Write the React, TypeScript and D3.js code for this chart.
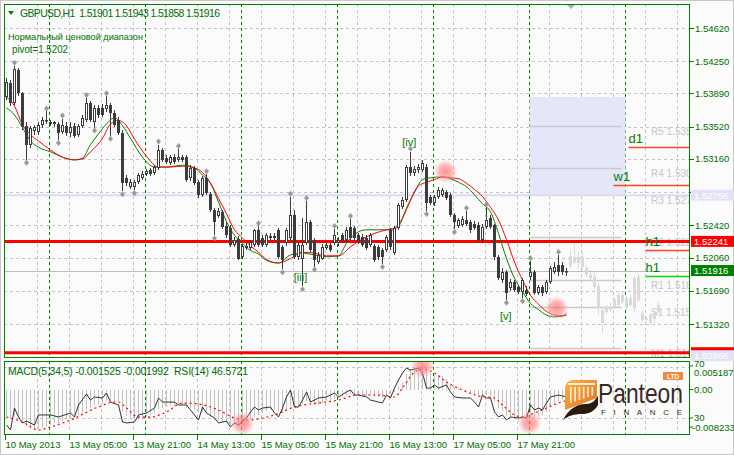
import React from "react";
import * as d3 from "d3";

// ---------- DATA ----------
const symbolTitle = "GBPUSD,H1  1.51901 1.51943 1.51858 1.51916";
const noteLine1 = "Нормальный ценовой диапазон";
const noteLine2 = "pivot=1.5202";
const macdTitle = "MACD(5,34,5) -0.001525 -0.001992  RSI(14) 46.5721";

const opens = [1.5385,1.5401,1.5378,1.5415,1.5390,1.5353,1.5332,1.5347,1.5346,1.5354,
1.5358,1.5357,1.5357,1.5355,1.5346,1.5353,1.5345,1.5353,1.5343,1.5353,
1.5359,1.5378,1.5357,1.5373,1.5373,1.5372,1.5376,1.5367,1.5359,1.5345,
1.5295,1.5285,1.5285,1.5290,1.5295,1.5299,1.5304,1.5300,1.5306,1.5326,
1.5317,1.5311,1.5318,1.5315,1.5318,1.5318,1.5295,1.5306,1.5290,1.5276,
1.5295,1.5277,1.5259,1.5252,1.5257,1.5241,1.5239,1.5220,1.5227,1.5207,
1.5219,1.5217,1.5220,1.5237,1.5228,1.5220,1.5230,1.5230,1.5237,1.5218,
1.5222,1.5228,1.5253,1.5207,1.5205,1.5222,1.5246,1.5226,1.5201,1.5205,
1.5217,1.5220,1.5222,1.5222,1.5231,1.5226,1.5240,1.5239,1.5231,1.5229,
1.5228,1.5220,1.5219,1.5218,1.5214,1.5214,1.5237,1.5211,1.5239,1.5262,
1.5270,1.5307,1.5300,1.5304,1.5304,1.5307,1.5274,1.5267,1.5274,1.5276,
1.5279,1.5276,1.5253,1.5241,1.5242,1.5248,1.5246,1.5243,1.5242,1.5226,
1.5240,1.5250,1.5242,1.5207,1.5181,1.5190,1.5172,1.5179,1.5173,1.5168,
1.5170,1.5184,1.5190,1.5167,1.5173,1.5168,1.5179,1.5190,1.5198,1.5198,
1.51901];
const highs = [1.5406,1.5404,1.5420,1.5417,1.5391,1.5357,1.5353,1.5354,1.5357,1.5363,
1.5369,1.5359,1.5358,1.5357,1.5361,1.5357,1.5357,1.5356,1.5355,1.5365,
1.5384,1.5381,1.5376,1.5376,1.5377,1.5386,1.5378,1.5371,1.5363,1.5348,
1.5298,1.5294,1.5293,1.5300,1.5303,1.5305,1.5306,1.5309,1.5332,1.5328,
1.5320,1.5320,1.5322,1.5327,1.5320,1.5320,1.5309,1.5308,1.5293,1.5297,
1.5299,1.5279,1.5261,1.5261,1.5259,1.5246,1.5242,1.5229,1.5230,1.5221,
1.5222,1.5226,1.5238,1.5241,1.5231,1.5233,1.5233,1.5234,1.5239,1.5220,
1.5239,1.5274,1.5259,1.5223,1.5250,1.5269,1.5248,1.5228,1.5212,1.5221,
1.5223,1.5222,1.5238,1.5229,1.5233,1.5240,1.5249,1.5241,1.5234,1.5232,
1.5231,1.5234,1.5221,1.5220,1.5217,1.5231,1.5239,1.5241,1.5267,1.5274,
1.5309,1.5324,1.5308,1.5310,1.5315,1.5310,1.5276,1.5276,1.5285,1.5284,
1.5281,1.5278,1.5256,1.5250,1.5252,1.5258,1.5248,1.5247,1.5246,1.5244,
1.5262,1.5253,1.5244,1.5209,1.5194,1.5192,1.5182,1.5181,1.5175,1.5183,
1.5174,1.5202,1.5192,1.5175,1.5175,1.5181,1.5197,1.5201,1.5209,1.5201,
1.51943];
const lows = [1.5382,1.5375,1.5376,1.5386,1.5348,1.5315,1.5328,1.5343,1.5343,1.5351,
1.5355,1.5353,1.5352,1.5337,1.5344,1.5342,1.5340,1.5339,1.5340,1.5351,
1.5357,1.5357,1.5351,1.5362,1.5363,1.5368,1.5342,1.5352,1.5343,1.5280,
1.5286,1.5282,1.5281,1.5288,1.5293,1.5297,1.5297,1.5298,1.5304,1.5313,
1.5310,1.5309,1.5310,1.5313,1.5313,1.5290,1.5291,1.5287,1.5272,1.5274,
1.5276,1.5257,1.5231,1.5250,1.5238,1.5228,1.5218,1.5218,1.5203,1.5204,
1.5214,1.5214,1.5218,1.5218,1.5218,1.5218,1.5226,1.5224,1.5204,1.5193,
1.5219,1.5226,1.5204,1.5203,1.5174,1.5220,1.5212,1.5196,1.5199,1.5203,
1.5214,1.5212,1.5220,1.5219,1.5222,1.5223,1.5226,1.5224,1.5221,1.5218,
1.5214,1.5218,1.5201,1.5203,1.5199,1.5212,1.5214,1.5209,1.5237,1.5260,
1.5268,1.5297,1.5297,1.5300,1.5301,1.5258,1.5265,1.5263,1.5271,1.5274,
1.5270,1.5251,1.5238,1.5239,1.5240,1.5241,1.5234,1.5237,1.5223,1.5223,
1.5238,1.5238,1.5203,1.5181,1.5178,1.5159,1.5169,1.5168,1.5165,1.5161,
1.5163,1.5181,1.5164,1.5164,1.5163,1.5165,1.5177,1.5188,1.5185,1.5187,
1.51858];
const closes = [1.5402,1.5378,1.5416,1.5390,1.5352,1.5332,1.5351,1.5352,1.5354,1.5359,
1.5359,1.5355,1.5355,1.5345,1.5354,1.5345,1.5352,1.5342,1.5353,1.5362,
1.5378,1.5359,1.5373,1.5365,1.5365,1.5376,1.5367,1.5354,1.5345,1.5289,
1.5289,1.5290,1.5290,1.5298,1.5299,1.5303,1.5299,1.5307,1.5326,1.5315,
1.5313,1.5318,1.5313,1.5318,1.5315,1.5293,1.5306,1.5289,1.5276,1.5295,
1.5278,1.5259,1.5246,1.5258,1.5240,1.5231,1.5220,1.5226,1.5205,1.5219,
1.5217,1.5223,1.5237,1.5220,1.5220,1.5231,1.5228,1.5228,1.5207,1.5203,
1.5237,1.5253,1.5207,1.5220,1.5220,1.5246,1.5214,1.5203,1.5209,1.5218,
1.5220,1.5214,1.5231,1.5226,1.5226,1.5237,1.5228,1.5228,1.5223,1.5220,
1.5217,1.5231,1.5203,1.5207,1.5207,1.5229,1.5218,1.5239,1.5265,1.5270,
1.5307,1.5300,1.5305,1.5307,1.5311,1.5267,1.5267,1.5274,1.5281,1.5281,
1.5272,1.5253,1.5246,1.5248,1.5249,1.5244,1.5237,1.5239,1.5226,1.5240,
1.5248,1.5240,1.5207,1.5183,1.5190,1.5167,1.5179,1.5170,1.5168,1.5181,
1.5165,1.5190,1.5167,1.5173,1.5167,1.5179,1.5194,1.5196,1.5190,1.5190,
1.51916];

// projected (ghost) candles, starting at bar 141
const ghostStart = 141;
const gOpen = [1.5197,1.5201,1.5207,1.5207,1.5194,1.5187,1.5184,1.5174,1.5148,1.5145,1.5148,1.5151,1.5153,1.5156,1.5161,1.5153,1.5150,1.5184,1.5144,1.5138,1.5133,1.5138,1.5145];
const gHigh = [1.5214,1.5221,1.5212,1.5212,1.5197,1.5190,1.5190,1.5178,1.5151,1.5153,1.5155,1.5161,1.5167,1.5168,1.5163,1.5164,1.5185,1.5188,1.5147,1.5140,1.5144,1.5147,1.5156];
const gLow = [1.5194,1.5199,1.5194,1.5192,1.5184,1.5181,1.5171,1.5142,1.5122,1.5143,1.5145,1.5149,1.5151,1.5154,1.5148,1.5151,1.5144,1.5156,1.5134,1.5134,1.5131,1.5131,1.5143];
const gClose = [1.5208,1.5207,1.5200,1.5196,1.5187,1.5183,1.5173,1.5150,1.5133,1.5151,1.5151,1.5159,1.5164,1.5164,1.5150,1.5161,1.5183,1.5159,1.5136,1.5136,1.5142,1.5144,1.5153];

const fractalUp = [2,10,14,20,25,38,43,50,63,71,75,82,86,101,115,120,131,138];
const fractalDown = [5,13,22,26,29,32,52,69,74,77,94,105,112,125,129];

const redIdx = [0,2,4,6,8,11,14,17,19,21,24,26,28,30,32,35,38,41,44,47,49,51,53,55,57,59,61,63,65,68,71,74,77,80,83,86,89,92,95,97,99,101,103,105,107,109,111,113,115,117,119,121,123,125,127,129,131,133,135,137,139,140];
const redVal = [1.5385,1.5375,1.5354,1.5343,1.5336,1.5326,1.5318,1.5315,1.5316,1.5324,1.5339,1.5355,1.5359,1.5353,1.5338,1.5319,1.5307,1.5307,1.5308,1.5306,1.5301,1.5289,1.5272,1.5255,1.5237,1.5228,1.5219,1.5212,1.5204,1.5200,1.5205,1.5212,1.5211,1.5208,1.5208,1.5218,1.5227,1.5233,1.5237,1.5239,1.5250,1.5270,1.5286,1.5290,1.5293,1.5296,1.5295,1.5294,1.5289,1.5282,1.5274,1.5262,1.5248,1.5226,1.5201,1.5181,1.5164,1.5154,1.5146,1.5142,1.5141,1.5142];
const greenIdx = [0,2,4,6,8,11,14,17,19,21,23,25,27,29,31,34,37,40,44,47,49,51,53,55,57,59,61,63,65,68,71,74,77,80,83,85,87,90,93,96,98,100,102,104,106,109,111,113,115,117,119,121,123,125,127,129,131,133,135,137,139,140];
const greenVal = [1.5373,1.5365,1.5351,1.5336,1.5329,1.5324,1.5318,1.5315,1.5317,1.5332,1.5344,1.5355,1.5362,1.5353,1.5339,1.5318,1.5307,1.5307,1.5309,1.5306,1.5298,1.5289,1.5268,1.5246,1.5231,1.5222,1.5214,1.5210,1.5203,1.5200,1.5209,1.5211,1.5209,1.5207,1.5208,1.5222,1.5232,1.5237,1.5237,1.5237,1.5241,1.5261,1.5279,1.5293,1.5295,1.5296,1.5294,1.5290,1.5285,1.5276,1.5266,1.5257,1.5233,1.5205,1.5183,1.5168,1.5155,1.5148,1.5142,1.5140,1.5141,1.5144];

const macdHist = [-0.0052,-0.0055,-0.0050,-0.0048,-0.0058,-0.0068,-0.0072,-0.0074,-0.0073,-0.0071,-0.0068,
-0.0065,-0.0062,-0.0062,-0.0058,-0.0056,-0.0054,-0.0051,-0.0048,-0.0044,
-0.0036,-0.0034,-0.0029,-0.0027,-0.0025,-0.0020,-0.0020,-0.0021,-0.0022,
-0.0040,-0.0049,-0.0055,-0.0056,-0.0055,-0.0053,-0.0050,-0.0047,-0.0044,
-0.0036,-0.0034,-0.0032,-0.0030,-0.0030,-0.0028,-0.0029,-0.0034,-0.0034,-0.0037,-0.0042,-0.0040,-0.0042,
-0.0050,-0.0057,-0.0058,-0.0060,-0.0062,-0.0066,-0.0064,-0.0067,-0.0062,-0.0058,
-0.0055,-0.0050,-0.0047,-0.0043,-0.0040,-0.0037,-0.0036,-0.0040,-0.0042,-0.0038,
-0.0030,-0.0033,-0.0032,-0.0027,-0.0022,-0.0025,-0.0028,-0.0028,-0.0025,-0.0021,
-0.0020,-0.0016,-0.0014,-0.0013,-0.0010,-0.0008,-0.0008,-0.0010,-0.0011,-0.0012,
-0.0010,-0.0013,-0.0014,-0.0015,-0.0010,-0.0009,-0.0004,0.0005,0.0014,
0.0030,0.0038,0.0042,0.0044,0.0044,0.0036,0.0030,0.0028,0.0028,0.0026,0.0020,
0.0012,0.0005,0.0003,0.0001,-0.0002,-0.0005,-0.0008,-0.0012,-0.0012,-0.0010,-0.0012,
-0.0022,-0.0034,-0.0040,-0.0048,-0.0052,-0.0055,-0.0058,-0.0055,-0.0056,
-0.0050,-0.0052,-0.0050,-0.0048,-0.0042,-0.0033,-0.0027,-0.0022,-0.0018,-0.001525];
const sigIdx = [0,4,8,11,16,23,27,28,30,33,36,40,44,48,53,57,60,67,72,78,83,88,93,97,99,102,104,107,110,114,118,122,124,127,129,132,135,138,140];
const sigVal = [-0.00507,-0.00600,-0.00749,-0.00693,-0.00562,-0.00320,-0.00227,-0.00227,-0.00339,-0.00507,-0.00507,-0.00413,-0.00246,-0.00264,-0.00376,-0.00525,-0.00562,-0.00469,-0.00320,-0.00246,-0.00190,-0.00096,-0.00096,-0.00134,0.00034,0.00332,0.00388,0.00314,0.00146,-0.00003,-0.00115,-0.00152,-0.00283,-0.00469,-0.00507,-0.00432,-0.00339,-0.00246,-0.00199];
const rsiIdx = [0,1,2,3,4,5,7,8,11,13,16,17,18,20,21,22,24,25,26,28,29,30,32,33,35,37,38,39,40,42,43,45,47,48,49,50,52,53,55,56,57,58,60,61,62,63,64,66,67,68,69,70,71,72,73,74,75,76,78,80,82,83,85,86,87,88,90,91,93,94,95,96,97,98,99,100,101,103,104,105,106,107,108,110,111,112,114,116,117,118,119,120,121,122,123,124,125,126,128,129,130,131,132,133,134,135,136,138,140];
const rsiVal = [24.5,20.6,37.8,30.8,26.1,27.6,24.5,32.4,32.4,30.8,33.9,30.8,40.2,48.8,44.1,46.5,45.7,49.6,42.5,40.2,26.9,26.1,26.9,32.4,33.9,37.8,45.7,42.5,42.5,42.5,40.2,40.2,32.4,28.4,38.6,33.9,30,26.1,27.6,22.9,26.1,24.5,30,34.7,38.6,36.3,37.8,38.6,33.9,30.8,37.8,46.5,52,38.6,38.6,44.1,50.4,42.5,45.7,46.5,49.6,46.5,50.4,52,48,48,46.5,44.1,42.5,41.8,48,45.7,53.5,59.8,65.3,69.2,67.6,69.2,65.3,53.5,53.5,55.9,53.5,55.9,50.4,46.5,45.7,45.7,42.5,38.6,48,45.7,45.7,34.7,30.8,32.4,28.4,30.8,30,30.8,30,40.2,36.3,37.8,36.3,41.8,46.5,48,46.57];

const priceTicks = [1.5462, 1.5425, 1.5389, 1.5352, 1.5316, 1.5279, 1.5242, 1.5206, 1.5169, 1.5132];
const hiddenTick = 1.5279; // covered by the 1.52756 marker
const dateIdx = [0, 16, 32, 48, 64, 80, 96, 112, 128];
const dateLabels = ["10 May 2013", "13 May 05:00", "13 May 21:00", "14 May 13:00", "15 May 05:00", "15 May 21:00", "16 May 13:00", "17 May 05:00", "17 May 21:00"];
const dayStartIdx = [11, 35, 59, 83, 107, 131, 155];

const pivotNames = ["R5", "R4", "R3", "R2", "R1", "S1", "M1"];
const pivotLevels = [1.5353, 1.5306, 1.52756, 1.5229, 1.5181, 1.5151, 1.5105];
const zoneTop = 1.5385;
const zoneBottom = 1.52756;
const redLevels = [1.52241, 1.5100];
const lastPrice = 1.51916;
const bottomLevel = 1.50966;
const tfNames = ["d1", "w1", "h1", "h1"];
const tfLevels = [1.5329, 1.5287, 1.5215, 1.5185];
const tfStartIdx = [155.5, 151.75, 159.75, 159.75];
const tfColors = ["#ff4a1c", "#ff4a1c", "#ff4a1c", "#00e000"];
const waveLabels = ["[iii]", "[iv]", "[v]"];
const waveIdx = [73.5, 100.7, 124.8];
const wavePrices = [1.5180, 1.5330, 1.5136];
const highlightMain = [[109.75, 1.5302], [137.5, 1.5150]];
const highlightSub = [[59, -0.0063], [104, 0.0044], [130.75, -0.0062]];

// ---------- LAYOUT ----------
const FONT = "'Liberation Sans', Arial, sans-serif";
const TXT = "#006f00";
const GRN = "#008000";
const L = 4, R = 690, T = 4, B = 358;
const MT = 361, MB = 435;

const xBar = d3.scaleLinear().domain([0, 171]).range([6.5, 690.5]);
const yP = d3.scaleLinear().domain([1.5132, 1.5462]).range([324, 28]);
const yM = d3.scaleLinear().domain([-0.008233, 0.005187]).range([434, 362]);
const yR = d3.scaleLinear().domain([30, 70]).range([418, 367]);
const snap = (v: number) => Math.round(v) + 0.5;

export default function App() {
  const gridX = d3.range(8, 172, 8).map((i) => xBar(i) - 1);
  const redLine = d3.line<number>().x((d, k) => xBar(redIdx[k])).y((d) => yP(d)).curve(d3.curveMonotoneX)(redVal) || "";
  const greenLine = d3.line<number>().x((d, k) => xBar(greenIdx[k])).y((d) => yP(d)).curve(d3.curveMonotoneX)(greenVal) || "";
  const sigLine = d3.line<number>().x((d, k) => xBar(sigIdx[k])).y((d) => yM(d)).curve(d3.curveMonotoneX)(sigVal) || "";
  const rsiLine = d3.line<number>().x((d, k) => xBar(rsiIdx[k])).y((d) => yR(d))(rsiVal) || "";

  const candle = (i: number, o: number, h: number, l: number, c: number, ghost: boolean) => {
    const x = xBar(i);
    const yo = yP(o), yc = yP(c);
    const top = Math.round(Math.min(yo, yc));
    const bot = Math.max(Math.round(Math.max(yo, yc)), top + 1);
    const col = ghost ? "#dadada" : "#3c3c3c";
    const bull = c >= o;
    return (
      <g key={(ghost ? "g" : "c") + i}>
        <line x1={x} x2={x} y1={Math.round(yP(h))} y2={Math.round(yP(l))} stroke={col} strokeWidth={1} />
        {bull && !ghost ? (
          <rect x={x - 1} y={top + 0.5} width={2} height={Math.max(bot - top - 1, 0.5)} fill="#ffffff" stroke={col} strokeWidth={1} />
        ) : (
          <rect x={x - 1.5} y={top} width={3} height={Math.max(bot - top, 1)} fill={col} />
        )}
      </g>
    );
  };

  const diamond = (cx: number, cy: number, k: string) => (
    <path key={k} d={`M${cx},${cy - 3}L${cx + 2.5},${cy}L${cx},${cy + 3}L${cx - 2.5},${cy}Z`} fill="#9a9a9a" />
  );

  const boxLabel = (price: number, bg: string, key: string, showText: boolean) => {
    const y = yP(price);
    return (
      <g key={key}>
        <rect x={691} y={y - 5.5} width={43} height={11} fill={bg} />
        {showText && <text x={694} y={y + 3.5} fontSize={9.5} fill="#ffffff" fontFamily={FONT}>{price.toFixed(5)}</text>}
      </g>
    );
  };

  return (
    <svg width={734} height={455} style={{ position: "absolute", left: 0, top: 0, background: "#fbfbfb" }}>
      <defs>
        <clipPath id="mainClip"><rect x={L} y={T} width={R - L} height={B - T} /></clipPath>
        <clipPath id="subClip"><rect x={L} y={MT} width={R - L} height={MB - MT} /></clipPath>
        <radialGradient id="pink">
          <stop offset="0%" stopColor="#ff6f6f" stopOpacity={0.75} />
          <stop offset="55%" stopColor="#ff8a8a" stopOpacity={0.6} />
          <stop offset="100%" stopColor="#ffb0b0" stopOpacity={0} />
        </radialGradient>
        <linearGradient id="orangeG" x1="0" y1="0" x2="1" y2="1">
          <stop offset="0%" stopColor="#fbb347" />
          <stop offset="100%" stopColor="#e5701c" />
        </linearGradient>
      </defs>

      <rect x={0.5} y={0.5} width={733} height={454} fill="#fbfbfb" stroke="#c8c8c8" />

      {/* ---------- MAIN PANEL ---------- */}
      <g clipPath="url(#mainClip)">
        {priceTicks.map((p) => (
          <line key={"hg" + p} x1={L} x2={R} y1={snap(yP(p))} y2={snap(yP(p))} stroke="#c4c4c4" strokeDasharray="3,3" />
        ))}
        {gridX.map((x) => (
          <line key={"vg" + x} x1={x} x2={x} y1={T} y2={B} stroke="#c4c4c4" strokeDasharray="3,3" />
        ))}
        {dayStartIdx.map((i) => (
          <line key={"sep" + i} x1={xBar(i) - 1} x2={xBar(i) - 1} y1={T} y2={B} stroke={GRN} strokeDasharray="3,3" />
        ))}

        {/* pivot zone */}
        <rect x={xBar(131) - 1} y={yP(zoneTop)} width={96} height={yP(zoneBottom) - yP(zoneTop)} fill="#e6e6f9" />
        <line x1={L} x2={R} y1={yP(zoneBottom)} y2={yP(zoneBottom)} stroke="#dcdcf2" strokeWidth={2} />
        {pivotLevels.map((p, k) => k === 2 ? null : (
          <line key={"pv" + k} x1={xBar(131) - 1} x2={xBar(154) - 1} y1={snap(yP(p))} y2={snap(yP(p))} stroke="#cacaca" strokeWidth={1.5} />
        ))}
        {pivotLevels.map((p, k) => (
          <text key={"pt" + k} x={651} y={yP(p) + 9} fontSize={10} fill="#c6c6c6" fontFamily={FONT}>{pivotNames[k] + " " + p.toFixed(4)}</text>
        ))}

        {/* current price line */}
        <line x1={L} x2={R} y1={snap(yP(lastPrice))} y2={snap(yP(lastPrice))} stroke="#bdbdbd" />

        {/* ghost projection */}
        {gOpen.map((o, k) => candle(ghostStart + k, o, gHigh[k], gLow[k], gClose[k], true))}

        {/* red horizontal levels */}
        {redLevels.map((p) => (
          <line key={"rl" + p} x1={L} x2={R} y1={yP(p)} y2={yP(p)} stroke="#ff0000" strokeWidth={3} />
        ))}

        {/* moving averages */}
        <path d={greenLine} fill="none" stroke="#008000" strokeWidth={1} />
        <path d={redLine} fill="none" stroke="#ff0000" strokeWidth={1} />

        {/* candles */}
        {opens.map((o, i) => candle(i, o, highs[i], lows[i], closes[i], false))}

        {fractalUp.map((i) => diamond(xBar(i), yP(highs[i]) - 3, "fu" + i))}
        {fractalDown.map((i) => diamond(xBar(i), yP(lows[i]) + 3, "fd" + i))}

        {/* timeframe levels */}
        {tfLevels.map((p, k) => (
          <g key={"tf" + k}>
            <line x1={xBar(tfStartIdx[k])} x2={R} y1={snap(yP(p))} y2={snap(yP(p))} stroke={tfColors[k]} strokeWidth={1.5} />
            <text x={xBar(tfStartIdx[k])} y={yP(p) - 4} fontSize={13} fill={GRN} fontFamily={FONT}>{tfNames[k]}</text>
          </g>
        ))}

        {waveLabels.map((s, k) => (
          <text key={"wv" + k} x={xBar(waveIdx[k])} y={yP(wavePrices[k])} fontSize={11} fill={GRN} fontFamily={FONT} textAnchor="middle">{s}</text>
        ))}

        {highlightMain.map(([i, p], k) => (
          <circle key={"hm" + k} cx={xBar(i)} cy={yP(p)} r={12} fill="url(#pink)" />
        ))}

        {/* header */}
        <path d="M8,11L14,11L11,15Z" fill={GRN} />
        <text x={20} y={16.5} fontSize={10.4} fill={TXT} fontFamily={FONT} textLength={200} lengthAdjust="spacing" style={{ whiteSpace: "pre" }}>{symbolTitle}</text>
        <text x={8} y={40} fontSize={9.6} fill={TXT} fontFamily={FONT} textLength={135} lengthAdjust="spacingAndGlyphs">{noteLine1}</text>
        <text x={12} y={53} fontSize={10} fill={TXT} fontFamily={FONT} textLength={56} lengthAdjust="spacingAndGlyphs">{noteLine2}</text>
        <path d="M567,5L575,5L571,9Z" fill="#b0b0b0" />
      </g>
      <rect x={L + 0.5} y={T + 0.5} width={R - L - 1} height={B - T - 1} fill="none" stroke={GRN} />

      {/* right price axis */}
      {priceTicks.map((p) => (
        <g key={"pl" + p}>
          <line x1={R} x2={R + 4} y1={snap(yP(p))} y2={snap(yP(p))} stroke={GRN} />
          {p !== hiddenTick && (
            <text x={695} y={yP(p) + 3.5} fontSize={9.5} fill={TXT} fontFamily={FONT}>{p.toFixed(5)}</text>
          )}
        </g>
      ))}
      {boxLabel(zoneBottom, "#e2e2f6", "bz", true)}
      {boxLabel(redLevels[0], "#ff0000", "br0", true)}
      {boxLabel(lastPrice, "#008000", "bl", true)}
      {boxLabel(redLevels[1], "#ff0000", "br1", false)}
      {boxLabel(bottomLevel, "#e2e2f6", "bb", true)}

      {/* ---------- INDICATOR PANEL ---------- */}
      <g clipPath="url(#subClip)">
        {[70, 30].map((v) => (
          <line key={"rg" + v} x1={L} x2={R} y1={snap(yR(v))} y2={snap(yR(v))} stroke="#c4c4c4" strokeDasharray="3,3" />
        ))}
        {gridX.map((x) => (
          <line key={"svg" + x} x1={x} x2={x} y1={MT} y2={MB} stroke="#c4c4c4" strokeDasharray="3,3" />
        ))}
        {dayStartIdx.map((i) => (
          <line key={"ssep" + i} x1={xBar(i) - 1} x2={xBar(i) - 1} y1={MT} y2={MB} stroke={GRN} strokeDasharray="3,3" />
        ))}
        {macdHist.map((v, i) => (
          <line key={"mh" + i} x1={xBar(i)} x2={xBar(i)} y1={yM(0)} y2={yM(v)} stroke="#c2c2c2" strokeWidth={1} />
        ))}
        <path d={rsiLine} fill="none" stroke="#333333" strokeWidth={1} />
        <path d={sigLine} fill="none" stroke="#ff0000" strokeWidth={1.2} strokeDasharray="2,3" />
        {highlightSub.map(([i, v], k) => (
          <circle key={"hs" + k} cx={xBar(i)} cy={yM(v)} r={12} fill="url(#pink)" />
        ))}
        <text x={8} y={375} fontSize={10.4} fill={TXT} fontFamily={FONT} textLength={240} lengthAdjust="spacing" style={{ whiteSpace: "pre" }}>{macdTitle}</text>

        {/* logo */}
        <g>
          <path d="M565,410 L565,389 Q565,380 574,380 L597,380 L597,398 Z" fill="url(#orangeG)" />
          <rect x={568} y={383} width={27} height={2} fill="#ffffff" opacity={0.85} />
          {d3.range(6).map((k) => (
            <rect key={"col" + k} x={570 + k * 4.3} y={387} width={1.6} height={16 - k * 1.5} fill="#ffffff" opacity={0.85} />
          ))}
          <path d="M563,420 C568,410 576,404 586,404 C591,404 595,401 598,396 L598,405 C594,412 588,414 582,414 C574,414 568,416 563,420 Z" fill="#2a1a10" />
          <text x={598} y={403} fontSize={28} fill="#3a2a1f" fontFamily={FONT} textLength={85} lengthAdjust="spacingAndGlyphs">Panteon</text>
          <text x={601} y={415} fontSize={8} fill="#3a2a1f" fontFamily={FONT} textLength={81} lengthAdjust="spacing">FINANCE</text>
          <rect x={663} y={372} width={20} height={8} fill="#f08a3a" />
          <text x={673} y={378.5} fontSize={6.5} fill="#ffffff" fontFamily={FONT} fontWeight="bold" textAnchor="middle">LTD</text>
        </g>
      </g>
      <rect x={L + 0.5} y={MT + 0.5} width={R - L - 1} height={MB - MT - 1} fill="none" stroke={GRN} />

      {/* indicator axis labels */}
      {[[367, "70"], [376, "0.005187"], [393, "0.00"], [421, "30"], [430.5, "-0.008233"]].map(([y, s]) => (
        <text key={"ia" + s} x={s === "-0.008233" ? 692 : 694} y={y as number} fontSize={9.5} fill={TXT} fontFamily={FONT}>{s as string}</text>
      ))}
      {[366, 389.5, 418, 427].map((y) => (
        <line key={"it" + y} x1={R} x2={R + 3} y1={y} y2={y} stroke={GRN} />
      ))}

      {/* date axis */}
      {dateIdx.map((i, k) => (
        <g key={"dt" + i}>
          <line x1={xBar(i) - 1} x2={xBar(i) - 1} y1={MB} y2={MB + 5} stroke={GRN} />
          <text x={xBar(i) - 1} y={448} fontSize={9.5} fill={TXT} fontFamily={FONT}>{dateLabels[k]}</text>
        </g>
      ))}
    </svg>
  );
}
